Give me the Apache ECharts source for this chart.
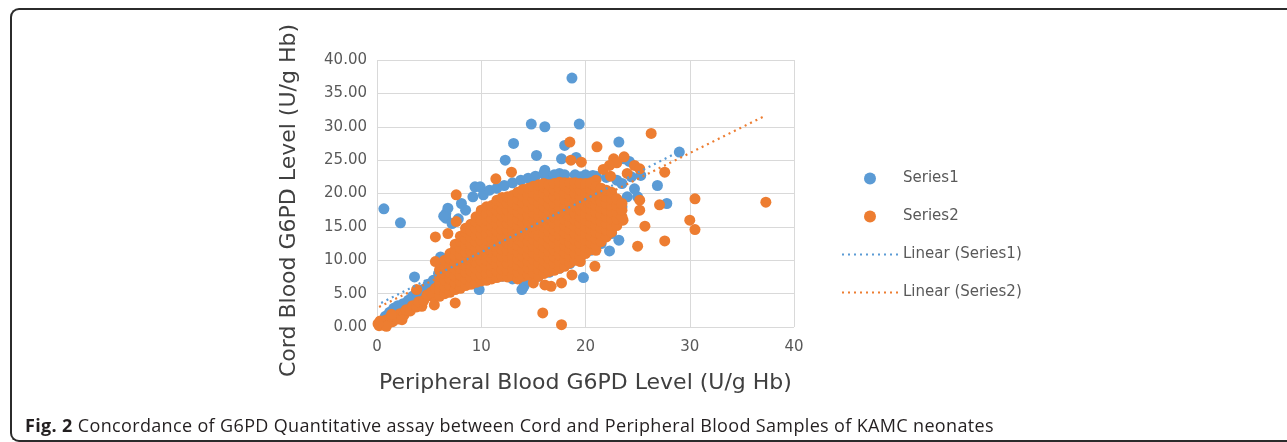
<!DOCTYPE html>
<html>
<head>
<meta charset="utf-8">
<script src="https://cdn.jsdelivr.net/npm/echarts@6/dist/echarts.min.js"></script>
<style>
  html, body { margin: 0; padding: 0; background: #fff; }
  .wrap { position: relative; width: 1287px; height: 442px; overflow: hidden; }
  .frame {
    position: absolute; left: 10px; top: 8px; width: 1300px; height: 434px;
    box-sizing: border-box; border: 2px solid #2b2b2b; border-right: none;
    border-radius: 9px 0 0 9px;
  }
  #chart { position: absolute; left: 0; top: 0; width: 1287px; height: 442px; }
  .caption {
    position: absolute; left: 25px; top: 413px; font-family: "Open Sans", sans-serif;
    font-size: 18px; letter-spacing: 0.35px; color: #231f20; white-space: nowrap; line-height: 24px;
  }
  .caption b { font-weight: 700; }
</style>
</head>
<body>
<div class="wrap">
  <div class="frame"></div>
  <div id="chart"></div>
  <div class="caption"><b>Fig. 2</b> Concordance of G6PD Quantitative assay between Cord and Peripheral Blood Samples of KAMC neonates</div>
</div>
<script>
// Series1 (blue): outliers and the edges left visible around the orange cloud
let series1 = [
  [18.7, 37.3], [14.8, 30.4], [16.1, 30.0], [19.4, 30.4], [13.1, 27.5], [23.2, 27.7],
  [12.3, 25.0], [15.3, 25.7], [17.7, 25.2], [18.0, 27.2], [19.1, 25.4], [29.0, 26.2],
  [23.7, 25.2], [24.2, 24.8], [26.9, 21.2], [27.8, 18.5], [25.0, 19.5], [23.2, 13.0],
  [22.3, 11.4], [19.8, 7.4], [14.1, 6.1], [13.9, 5.6], [9.8, 5.6], [3.6, 7.5],
  [5.1, 5.8], [0.66, 17.7], [2.25, 15.6], [6.6, 17.0], [6.6, 16.3], [6.8, 17.8],
  [6.4, 16.6], [9.4, 21.0], [9.9, 21.0], [8.1, 18.5], [16.1, 23.5], [16.1, 22.8],
  [16.6, 22.2], [19.5, 22.5], [20.7, 22.7], [17.5, 23.0], [24.4, 22.5], [25.3, 22.7],
  [24.7, 20.7], [21.2, 16.0], [21.0, 15.0],
  [7.2, 15.5], [7.8, 16.2], [8.5, 17.5], [9.2, 19.5], [10.2, 19.8], [10.8, 20.5],
  [11.5, 20.8], [12.2, 21.2], [13.0, 21.6], [13.8, 22.0], [14.5, 22.3], [15.2, 22.6],
  [16.0, 23.0], [17.0, 22.8], [18.0, 22.8], [19.0, 22.8], [20.0, 22.8], [21.0, 22.6],
  [22.0, 22.4], [23.0, 22.0], [23.5, 21.5],
  [0.4, 0.8], [0.8, 1.6], [1.2, 2.2], [1.6, 2.8], [2.0, 3.2], [2.5, 3.5], [3.0, 4.0],
  [3.4, 4.6], [3.9, 5.0], [4.4, 5.6], [4.9, 6.4], [5.4, 7.0], [5.9, 8.0], [6.3, 9.0],
  [6.8, 10.0], [7.2, 11.0], [7.7, 12.2], [8.2, 13.2], [8.8, 14.5], [6.1, 10.5],
  [11.0, 8.0], [12.0, 7.6], [13.0, 7.2], [13.8, 8.6], [14.5, 7.0], [15.5, 7.6],
  [16.5, 8.2], [17.5, 8.8], [18.5, 9.5], [19.5, 10.5], [20.5, 11.5], [21.5, 12.5],
  [22.5, 14.0], [23.0, 16.0], [23.5, 18.0], [24.0, 19.5], [22.6, 18.8], [21.8, 20.5]
];

// Series2 (orange): outliers, lower-left band and the dense central cloud
let series2 = [
  [37.3, 18.7], [26.3, 29.0], [18.5, 27.7], [21.1, 27.0], [18.6, 25.0], [19.6, 24.7],
  [12.9, 23.2], [11.4, 22.2], [7.6, 19.8], [27.6, 23.2], [22.7, 25.2], [23.7, 25.5],
  [23.0, 24.6], [24.7, 24.2], [25.2, 23.7], [22.3, 24.2], [21.7, 23.6], [30.5, 19.2],
  [30.0, 16.0], [30.5, 14.6], [27.1, 18.3], [25.2, 19.0], [25.2, 17.5], [25.7, 15.1],
  [25.0, 12.1], [27.6, 12.9], [23.6, 16.0], [21.3, 13.1], [21.0, 11.5], [20.9, 9.1],
  [19.5, 9.8], [18.7, 7.8], [17.7, 6.6], [16.7, 6.1], [16.1, 6.3], [15.0, 6.6],
  [15.9, 2.1], [17.7, 0.35], [7.5, 3.6], [5.6, 9.8], [5.6, 13.5], [6.8, 14.0],
  [7.6, 15.8], [5.5, 3.3], [5.3, 4.6], [4.3, 3.1], [3.8, 5.6], [22.4, 22.6],
  [21.0, 22.0], [24.0, 23.0],
  [0.2, 0.2], [0.4, 0.6], [0.6, 0.3], [0.8, 1.0], [1.0, 0.5], [1.2, 1.3], [1.5, 0.8],
  [1.7, 1.6], [2.0, 1.2], [2.2, 2.0], [2.6, 1.8], [2.8, 2.6], [3.2, 2.4], [3.4, 3.2],
  [3.8, 3.0], [4.0, 3.8], [4.5, 4.0], [4.8, 4.8], [5.2, 5.2], [5.6, 5.8], [6.0, 6.3],
  [6.4, 7.0], [6.8, 7.5], [7.2, 8.2], [0.3, 0.9], [0.9, 0.1], [1.4, 1.9], [2.4, 1.1],
  [0.1, 0.5],
  [6, 4.6], [6, 5.6], [6, 6.6], [6, 7.6], [6, 8.6],
  [6.5, 5.0], [6.5, 6.0], [6.5, 7.0], [6.5, 8.0], [6.5, 9.0], [6.5, 10.0],
  [7, 5.2], [7, 6.2], [7, 7.2], [7, 8.2], [7, 9.2], [7, 10.2], [7, 11.0],
  [7.5, 5.6], [7.5, 6.6], [7.5, 7.6], [7.5, 8.6], [7.5, 9.6], [7.5, 10.6], [7.5, 11.6], [7.5, 12.4],
  [8, 5.8], [8, 6.8], [8, 7.8], [8, 8.8], [8, 9.8], [8, 10.8], [8, 11.8], [8, 12.8], [8, 13.6],
  [8.5, 6.2], [8.5, 7.2], [8.5, 8.2], [8.5, 9.2], [8.5, 10.2], [8.5, 11.2], [8.5, 12.2], [8.5, 13.2],
  [8.5, 14.2], [8.5, 14.8],
  [9, 6.4], [9, 7.4], [9, 8.4], [9, 9.4], [9, 10.4], [9, 11.4], [9, 12.4], [9, 13.4], [9, 14.4], [9, 15.4],
  [9.5, 6.7], [9.5, 7.7], [9.5, 8.7], [9.5, 9.7], [9.5, 10.7], [9.5, 11.7], [9.5, 12.7], [9.5, 13.7],
  [9.5, 14.7], [9.5, 15.7], [9.5, 16.5],
  [10, 6.9], [10, 7.9], [10, 8.9], [10, 9.9], [10, 10.9], [10, 11.9], [10, 12.9], [10, 13.9],
  [10, 14.9], [10, 15.9], [10, 16.9], [10, 17.5],
  [10.5, 7.0], [10.5, 8.0], [10.5, 9.0], [10.5, 10.0], [10.5, 11.0], [10.5, 12.0], [10.5, 13.0],
  [10.5, 14.0], [10.5, 15.0], [10.5, 16.0], [10.5, 17.0], [10.5, 18.0],
  [11, 7.2], [11, 8.2], [11, 9.2], [11, 10.2], [11, 11.2], [11, 12.2], [11, 13.2], [11, 14.2],
  [11, 15.2], [11, 16.2], [11, 17.2], [11, 18.2],
  [11.5, 7.4], [11.5, 8.4], [11.5, 9.4], [11.5, 10.4], [11.5, 11.4], [11.5, 12.4], [11.5, 13.4],
  [11.5, 14.4], [11.5, 15.4], [11.5, 16.4], [11.5, 17.4], [11.5, 18.4], [11.5, 19.0],
  [12, 7.6], [12, 8.6], [12, 9.6], [12, 10.6], [12, 11.6], [12, 12.6], [12, 13.6], [12, 14.6],
  [12, 15.6], [12, 16.6], [12, 17.6], [12, 18.6], [12, 19.4],
  [12.5, 7.5], [12.5, 8.5], [12.5, 9.5], [12.5, 10.5], [12.5, 11.5], [12.5, 12.5], [12.5, 13.5],
  [12.5, 14.5], [12.5, 15.5], [12.5, 16.5], [12.5, 17.5], [12.5, 18.5], [12.5, 19.5],
  [13, 7.7], [13, 8.7], [13, 9.7], [13, 10.7], [13, 11.7], [13, 12.7], [13, 13.7], [13, 14.7],
  [13, 15.7], [13, 16.7], [13, 17.7], [13, 18.7], [13, 19.7],
  [13.5, 7.2], [13.5, 8.2], [13.5, 9.2], [13.5, 10.2], [13.5, 11.2], [13.5, 12.2], [13.5, 13.2],
  [13.5, 14.2], [13.5, 15.2], [13.5, 16.2], [13.5, 17.2], [13.5, 18.2], [13.5, 19.2], [13.5, 20.2],
  [14, 7.6], [14, 8.6], [14, 9.6], [14, 10.6], [14, 11.6], [14, 12.6], [14, 13.6], [14, 14.6],
  [14, 15.6], [14, 16.6], [14, 17.6], [14, 18.6], [14, 19.6], [14, 20.6],
  [14.5, 7.8], [14.5, 8.8], [14.5, 9.8], [14.5, 10.8], [14.5, 11.8], [14.5, 12.8], [14.5, 13.8],
  [14.5, 14.8], [14.5, 15.8], [14.5, 16.8], [14.5, 17.8], [14.5, 18.8], [14.5, 19.8], [14.5, 20.8],
  [15, 8.1], [15, 9.1], [15, 10.1], [15, 11.1], [15, 12.1], [15, 13.1], [15, 14.1], [15, 15.1],
  [15, 16.1], [15, 17.1], [15, 18.1], [15, 19.1], [15, 20.1], [15, 21.1],
  [15.5, 7.6], [15.5, 8.6], [15.5, 9.6], [15.5, 10.6], [15.5, 11.6], [15.5, 12.6], [15.5, 13.6],
  [15.5, 14.6], [15.5, 15.6], [15.5, 16.6], [15.5, 17.6], [15.5, 18.6], [15.5, 19.6], [15.5, 20.6],
  [15.5, 21.3],
  [16, 8.0], [16, 9.0], [16, 10.0], [16, 11.0], [16, 12.0], [16, 13.0], [16, 14.0], [16, 15.0],
  [16, 16.0], [16, 17.0], [16, 18.0], [16, 19.0], [16, 20.0], [16, 21.0], [16, 21.5],
  [16.5, 8.3], [16.5, 9.3], [16.5, 10.3], [16.5, 11.3], [16.5, 12.3], [16.5, 13.3], [16.5, 14.3],
  [16.5, 15.3], [16.5, 16.3], [16.5, 17.3], [16.5, 18.3], [16.5, 19.3], [16.5, 20.3], [16.5, 21.3],
  [17, 8.5], [17, 9.5], [17, 10.5], [17, 11.5], [17, 12.5], [17, 13.5], [17, 14.5], [17, 15.5],
  [17, 16.5], [17, 17.5], [17, 18.5], [17, 19.5], [17, 20.5], [17, 21.5],
  [17.5, 8.8], [17.5, 9.8], [17.5, 10.8], [17.5, 11.8], [17.5, 12.8], [17.5, 13.8], [17.5, 14.8],
  [17.5, 15.8], [17.5, 16.8], [17.5, 17.8], [17.5, 18.8], [17.5, 19.8], [17.5, 20.8], [17.5, 21.7],
  [18, 9.1], [18, 10.1], [18, 11.1], [18, 12.1], [18, 13.1], [18, 14.1], [18, 15.1], [18, 16.1],
  [18, 17.1], [18, 18.1], [18, 19.1], [18, 20.1], [18, 21.1], [18, 21.6],
  [18.5, 9.6], [18.5, 10.6], [18.5, 11.6], [18.5, 12.6], [18.5, 13.6], [18.5, 14.6], [18.5, 15.6],
  [18.5, 16.6], [18.5, 17.6], [18.5, 18.6], [18.5, 19.6], [18.5, 20.6], [18.5, 21.6],
  [19, 10.0], [19, 11.0], [19, 12.0], [19, 13.0], [19, 14.0], [19, 15.0], [19, 16.0], [19, 17.0],
  [19, 18.0], [19, 19.0], [19, 20.0], [19, 21.0], [19, 21.6],
  [19.5, 10.5], [19.5, 11.5], [19.5, 12.5], [19.5, 13.5], [19.5, 14.5], [19.5, 15.5], [19.5, 16.5],
  [19.5, 17.5], [19.5, 18.5], [19.5, 19.5], [19.5, 20.5], [19.5, 21.5],
  [20, 11.0], [20, 12.0], [20, 13.0], [20, 14.0], [20, 15.0], [20, 16.0], [20, 17.0], [20, 18.0],
  [20, 19.0], [20, 20.0], [20, 21.0], [20, 21.5],
  [20.5, 11.6], [20.5, 12.6], [20.5, 13.6], [20.5, 14.6], [20.5, 15.6], [20.5, 16.6], [20.5, 17.6],
  [20.5, 18.6], [20.5, 19.6], [20.5, 20.6], [20.5, 21.6],
  [21, 12.2], [21, 13.2], [21, 14.2], [21, 15.2], [21, 16.2], [21, 17.2], [21, 18.2], [21, 19.2],
  [21, 20.2], [21, 21.0],
  [21.5, 12.8], [21.5, 13.8], [21.5, 14.8], [21.5, 15.8], [21.5, 16.8], [21.5, 17.8], [21.5, 18.8],
  [21.5, 19.8], [21.5, 20.8],
  [22, 13.5], [22, 14.5], [22, 15.5], [22, 16.5], [22, 17.5], [22, 18.5], [22, 19.5], [22, 20.5],
  [22.5, 14.2], [22.5, 15.2], [22.5, 16.2], [22.5, 17.2], [22.5, 18.2], [22.5, 19.2], [22.5, 20.2],
  [23, 15.2], [23, 16.2], [23, 17.2], [23, 18.2], [23, 19.2],
  [23.5, 16.5], [23.5, 17.5], [23.5, 18.5]
];

// trendline end points
let trend1 = [[0.4, 3.6], [29.0, 26.3]];
let trend2 = [[0.2, 3.0], [37.3, 31.7]];

let xTicks = { min: 0, max: 40, interval: 10 };
let yTicks = { min: 0, max: 40, interval: 5 };

let blue = "#5B9BD5", orange = "#ED7D31";
let myChart = echarts.init(document.getElementById("chart"));
let option = {
  animation: false,
  grid: { left: 377, right: 493, top: 60, bottom: 115 },
  legend: {
    orient: "vertical",
    left: 841,
    top: 171,
    padding: 0,
    itemWidth: 56,
    itemHeight: 12,
    itemGap: 23,
    textStyle: { fontFamily: "DejaVu Sans", fontSize: 15, color: "#595959" },
    data: [
      "Series1",
      "Series2",
      { name: "Linear (Series1)", itemStyle: { opacity: 0 } },
      { name: "Linear (Series2)", itemStyle: { opacity: 0 } }
    ]
  },
  xAxis: {
    type: "value",
    min: xTicks.min, max: xTicks.max, interval: xTicks.interval,
    name: "Peripheral Blood G6PD Level (U/g Hb)",
    nameLocation: "middle",
    nameGap: 45,
    nameTextStyle: { fontFamily: "DejaVu Sans", fontSize: 22, color: "#404040" },
    axisLine: { show: false },
    axisTick: { show: false },
    axisLabel: { margin: 13, fontFamily: "DejaVu Sans", fontSize: 15, color: "#595959" },
    splitLine: { lineStyle: { color: "#d9d9d9", width: 1 } }
  },
  yAxis: {
    type: "value",
    min: yTicks.min, max: yTicks.max, interval: yTicks.interval,
    name: "Cord Blood G6PD Level (U/g Hb)",
    nameLocation: "middle",
    nameGap: 77,
    nameTextStyle: { fontFamily: "DejaVu Sans", fontSize: 22, color: "#404040", padding: [0, 14, 0, 0] },
    axisLine: { show: false },
    axisTick: { show: false },
    axisLabel: {
      margin: 10, fontFamily: "DejaVu Sans", fontSize: 15, color: "#595959",
      formatter: function (v) { return v.toFixed(2); }
    },
    splitLine: { lineStyle: { color: "#d9d9d9", width: 1 } }
  },
  series: [
    {
      name: "Series1", type: "scatter", data: series1,
      symbolSize: 11, itemStyle: { color: blue, opacity: 1, borderWidth: 0 }
    },
    {
      name: "Series2", type: "scatter", data: series2,
      symbolSize: 11, itemStyle: { color: orange, opacity: 1, borderWidth: 0 }
    },
    {
      name: "Linear (Series1)", type: "line", data: trend1, symbol: "none",
      lineStyle: { color: blue, width: 2.2, type: [2, 4] }, itemStyle: { color: blue }
    },
    {
      name: "Linear (Series2)", type: "line", data: trend2, symbol: "none",
      lineStyle: { color: orange, width: 2.2, type: [2, 4] }, itemStyle: { color: orange }
    }
  ]
};
myChart.setOption(option);
</script>
</body>
</html>
